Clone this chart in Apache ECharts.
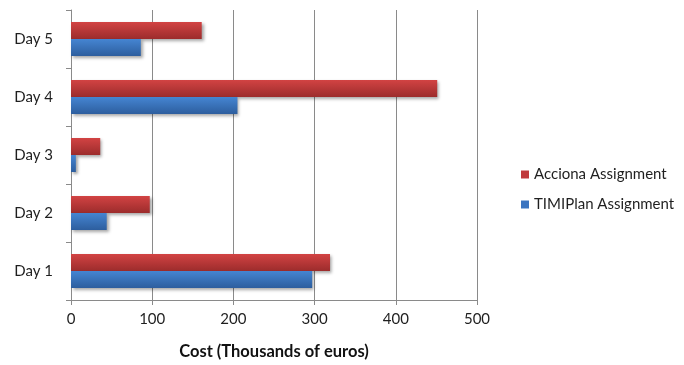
<!DOCTYPE html>
<html>
<head>
<meta charset="utf-8">
<script src="https://cdn.jsdelivr.net/npm/echarts@6/dist/echarts.min.js"></script>
<style>
  html, body { margin: 0; padding: 0; background: #fff; }
  #chart { width: 684px; height: 365px; }
</style>
</head>
<body>
<div id="chart"></div>
<script>
// Daily cost per assignment, in thousands of euros
const days = ['Day 1', 'Day 2', 'Day 3', 'Day 4', 'Day 5'];
const accionaCost = [319, 97, 36, 451, 161];
const timiplanCost = [297, 44, 6, 205, 86];
const costTicks = [0, 100, 200, 300, 400, 500];

const fontFamily = 'Lato, "Open Sans", sans-serif';

function barGradient(top, bottom) {
  return new echarts.graphic.LinearGradient(0, 0, 0, 1, [
    { offset: 0, color: top },
    { offset: 1, color: bottom }
  ]);
}

const barShadow = {
  shadowColor: 'rgba(0,0,0,0.35)',
  shadowBlur: 3,
  shadowOffsetX: 2,
  shadowOffsetY: 2
};

const chart = echarts.init(document.getElementById('chart'));
chart.setOption({
  animation: false,
  backgroundColor: '#ffffff',
  grid: { left: 71, right: 207, top: 10, bottom: 59 },
  legend: {
    orient: 'vertical',
    left: 516,
    top: 162,
    itemWidth: 8,
    itemHeight: 8,
    itemGap: 15,
    icon: 'rect',
    textStyle: { fontFamily, fontSize: 15, color: '#1f1f1f' },
    data: [
      { name: 'Acciona Assignment', itemStyle: { color: '#c0393b' } },
      { name: 'TIMIPlan Assignment', itemStyle: { color: '#3a74c0' } }
    ]
  },
  xAxis: {
    type: 'value',
    min: costTicks[0],
    max: costTicks[costTicks.length - 1],
    interval: costTicks[1] - costTicks[0],
    name: 'Cost (Thousands of euros)',
    nameLocation: 'middle',
    nameGap: 43,
    nameTextStyle: { fontFamily, fontSize: 16.5, fontWeight: 'bold', color: '#111' },
    axisLine: { show: true, lineStyle: { color: '#8a8a8a', width: 1 } },
    axisTick: { show: true, length: 5, lineStyle: { color: '#8a8a8a' } },
    axisLabel: { fontFamily, fontSize: 15, color: '#1f1f1f', margin: 12 },
    splitLine: { show: true, lineStyle: { color: '#8a8a8a', width: 1 } }
  },
  yAxis: {
    type: 'category',
    data: days,
    axisLine: { show: true, lineStyle: { color: '#8a8a8a', width: 1 } },
    axisTick: { show: true, length: 5, alignWithLabel: false, lineStyle: { color: '#8a8a8a' } },
    axisLabel: { fontFamily, fontSize: 15, color: '#1f1f1f', margin: 18 },
    splitLine: { show: false }
  },
  series: [
    {
      name: 'Acciona Assignment',
      type: 'bar',
      data: accionaCost,
      barWidth: 17,
      barGap: '0%',
      itemStyle: Object.assign({ color: barGradient('#d24343', '#9c2c2c') }, barShadow)
    },
    {
      name: 'TIMIPlan Assignment',
      type: 'bar',
      data: timiplanCost,
      barWidth: 17,
      barGap: '0%',
      itemStyle: Object.assign({ color: barGradient('#4585d2', '#2d5e9e') }, barShadow)
    }
  ]
});
</script>
</body>
</html>
